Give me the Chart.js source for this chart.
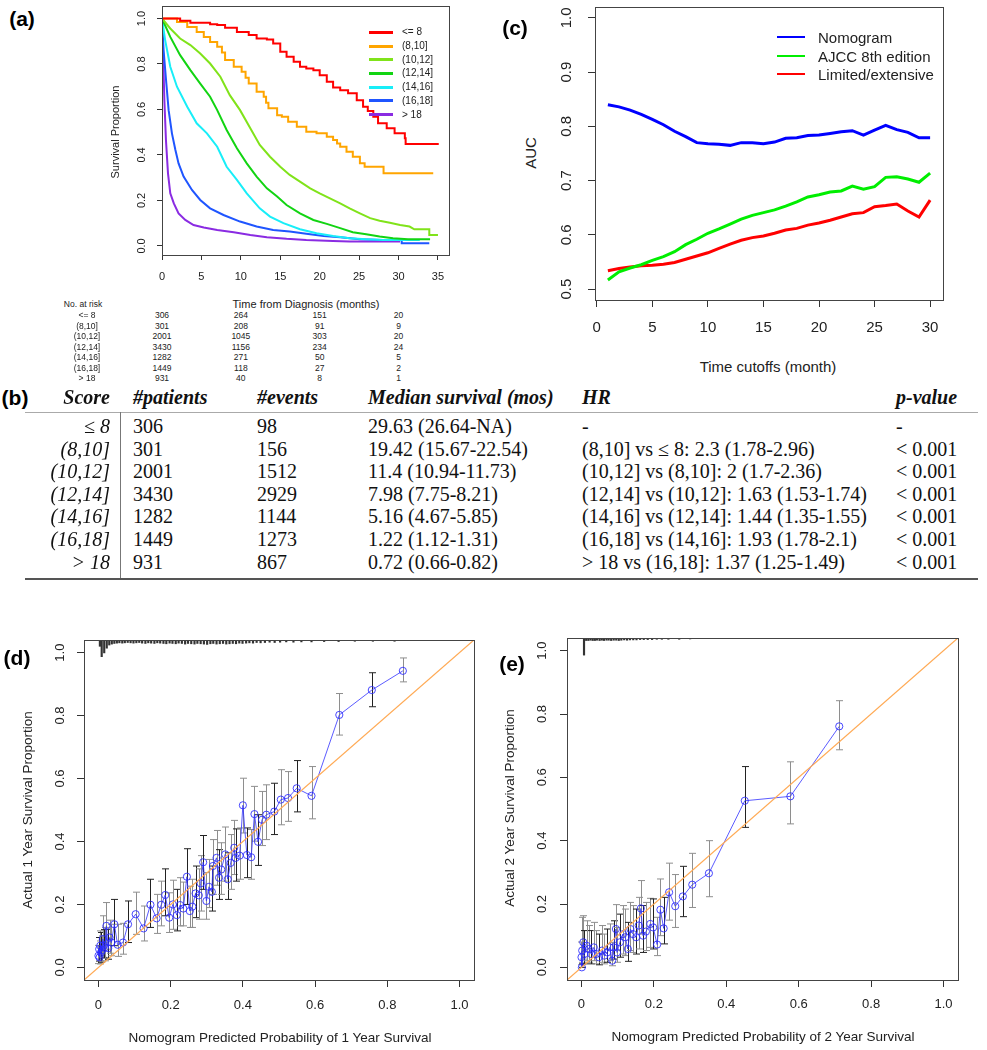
<!DOCTYPE html>
<html>
<head>
<meta charset="utf-8">
<title>Score figure</title>
<script src="https://cdn.jsdelivr.net/npm/chart.js@4.4.1/dist/chart.umd.min.js"></script>
<style>
  body { margin: 0; background: #fff; }
  #page { position: relative; width: 987px; height: 1050px; overflow: hidden; font-family: "Liberation Sans", Arial, sans-serif; color: #222; }
  #page canvas { position: absolute; }
  .lbl { position: absolute; white-space: nowrap; line-height: 1; }
  .tab { font-family: "Liberation Serif", "Times New Roman", serif; font-size: 20px; color: #111; }
  .head { font-weight: bold; font-style: italic; }
  .it { font-style: italic; }
  .tag { font-weight: bold; font-size: 21px; color: #000; }
</style>
</head>
<body>
<div id="page">
  <canvas id="km" width="360" height="290" style="left:100px;top:0px"></canvas>
  <canvas id="auc" width="400" height="345" style="left:560px;top:0px"></canvas>
  <canvas id="cal1" width="490" height="430" style="left:0px;top:620px"></canvas>
  <canvas id="cal2" width="497" height="430" style="left:490px;top:620px"></canvas>
</div>
<script>
// ---------- (a) Kaplan-Meier by score group ----------
const kmGroups = ['<= 8', '(8,10]', '(10,12]', '(12,14]', '(14,16]', '(16,18]', '> 18'];
const kmColors = ['#ff0000', '#ffa500', '#80e31a', '#12d412', '#18eef8', '#1f55ff', '#8a2be2'];
const curveLe8 = [[0,1],[2.3,0.99],[3.6,0.981],[6.1,0.975],[7,0.971],[8,0.959],[9.5,0.941],[11,0.927],[12,0.912],[13.3,0.908],[14.1,0.89],[15,0.854],[15.8,0.832],[16.7,0.81],[17.5,0.788],[18.3,0.78],[19.2,0.773],[20,0.751],[20.9,0.722],[21.7,0.697],[22.6,0.685],[23.6,0.671],[24.7,0.641],[25.5,0.612],[26.1,0.593],[26.8,0.568],[27.4,0.539],[28.5,0.517],[29.5,0.495],[30.8,0.473],[30.9,0.448],[35.1,0.448]];
const curve8to10 = [[0,1],[1.9,0.985],[3.2,0.963],[4.4,0.941],[5.3,0.919],[6.1,0.897],[7,0.876],[7.6,0.85],[8,0.817],[9.1,0.788],[10.1,0.766],[10.6,0.74],[11,0.714],[12,0.678],[12.9,0.656],[13.2,0.63],[13.5,0.605],[14.6,0.575],[15.2,0.568],[16,0.546],[17.1,0.524],[18.3,0.502],[19.6,0.495],[20.9,0.48],[21.7,0.466],[22.2,0.45],[22.6,0.436],[23.4,0.414],[24.2,0.392],[25.1,0.363],[25.7,0.348],[28.1,0.319],[34.4,0.319]];
const curve10to12 = [[0,1],[1.05,0.956],[2.3,0.912],[3.6,0.883],[4.85,0.846],[6.1,0.802],[7.4,0.744],[8.6,0.663],[9.9,0.597],[11.2,0.517],[12.4,0.444],[13.7,0.392],[15,0.348],[16.2,0.312],[17.5,0.283],[18.8,0.253],[20,0.231],[21.3,0.209],[22.6,0.187],[23.8,0.165],[25.1,0.143],[26.4,0.122],[27.6,0.111],[28.9,0.102],[30.2,0.092],[31.4,0.085],[32,0.073],[33.9,0.073],[33.9,0.048],[35,0.048]];
const curve12to14 = [[0,1],[1.05,0.919],[2.3,0.839],[3.6,0.773],[4.85,0.714],[6.1,0.656],[7,0.597],[8.2,0.51],[9.5,0.429],[10.75,0.363],[12,0.305],[13.3,0.253],[14.6,0.217],[15.8,0.18],[17.5,0.143],[19.2,0.114],[20.9,0.097],[22.6,0.078],[24.2,0.06],[25.9,0.051],[27.6,0.041],[29.3,0.034],[31.2,0.029],[34,0.029]];
const curve14to16 = [[0,1],[0.4,0.905],[1.05,0.788],[1.9,0.7],[3.2,0.612],[4.4,0.539],[5.7,0.495],[7,0.436],[8.2,0.348],[9.5,0.29],[10.75,0.231],[12.4,0.165],[13.7,0.129],[15.4,0.1],[17.5,0.073],[19.6,0.056],[21.7,0.044],[23.8,0.034],[25.9,0.029],[28,0.026],[32.7,0.026]];
const curve16to18 = [[0,1],[0.2,0.861],[0.55,0.714],[0.84,0.597],[1.26,0.495],[1.7,0.422],[2.1,0.363],[2.74,0.305],[3.8,0.246],[4.85,0.202],[6.1,0.165],[7.8,0.136],[9.9,0.107],[12,0.085],[14.1,0.07],[16.2,0.063],[18.3,0.053],[20.5,0.044],[22.6,0.038],[25.1,0.029],[28,0.026],[30.4,0.026],[30.4,0.012],[33.9,0.012]];
const curveOver18 = [[0,1],[0.13,0.861],[0.3,0.641],[0.5,0.466],[0.76,0.319],[1.05,0.231],[1.5,0.187],[2.1,0.143],[2.95,0.114],[4,0.092],[5.3,0.081],[7,0.07],[9.1,0.06],[11.2,0.048],[13.3,0.038],[15.8,0.031],[18.3,0.026],[21.7,0.022],[23.8,0.019],[30.2,0.019]];
const kmCurves = [curveLe8, curve8to10, curve10to12, curve12to14, curve14to16, curve16to18, curveOver18];
const kmTicksX = [0, 5, 10, 15, 20, 25, 30, 35];
const propTicks = [0, 0.2, 0.4, 0.6, 0.8, 1.0];
const riskTimes = [0, 10, 20, 30];
const riskCounts = [[306,264,151,20],[301,208,91,9],[2001,1045,303,20],[3430,1156,234,24],[1282,271,50,5],[1449,118,27,2],[931,40,8,1]];

// ---------- (c) time-dependent AUC ----------
const cutoffMonths = [1,2,3,4,5,6,7,8,9,10,11,12,13,14,15,16,17,18,19,20,21,22,23,24,25,26,27,28,29,30];
const aucNomogram = [0.840,0.836,0.830,0.822,0.813,0.803,0.791,0.781,0.770,0.768,0.767,0.765,0.770,0.770,0.768,0.771,0.778,0.779,0.783,0.784,0.787,0.790,0.792,0.784,0.793,0.802,0.794,0.789,0.779,0.779];
const aucAjcc = [0.517,0.532,0.539,0.545,0.553,0.560,0.569,0.582,0.592,0.603,0.611,0.620,0.629,0.636,0.641,0.646,0.653,0.661,0.670,0.674,0.679,0.681,0.690,0.684,0.689,0.706,0.707,0.703,0.697,0.714];
const aucLimited = [0.534,0.538,0.541,0.543,0.544,0.546,0.549,0.555,0.561,0.567,0.575,0.583,0.590,0.595,0.598,0.603,0.609,0.612,0.618,0.622,0.627,0.633,0.639,0.641,0.652,0.654,0.657,0.644,0.633,0.664];
const aucLabels = ['Nomogram', 'AJCC 8th edition', 'Limited/extensive'];
const aucColors = ['#0000ff', '#00ee00', '#ff0000'];
const aucTicksX = [0, 5, 10, 15, 20, 25, 30];
const aucTicksY = [0.5, 0.6, 0.7, 0.8, 0.9, 1.0];

// ---------- (b) table ----------
const tableHeads = ['Score', '#patients', '#events', 'Median survival (mos)', 'HR', 'p-value'];
const scoreLabels = ['\u2264 8', '(8,10]', '(10,12]', '(12,14]', '(14,16]', '(16,18]', '> 18'];
const nPatients = [306, 301, 2001, 3430, 1282, 1449, 931];
const nEvents = [98, 156, 1512, 2929, 1144, 1273, 867];
const medianSurv = ['29.63 (26.64-NA)', '19.42 (15.67-22.54)', '11.4 (10.94-11.73)', '7.98 (7.75-8.21)', '5.16 (4.67-5.85)', '1.22 (1.12-1.31)', '0.72 (0.66-0.82)'];
const hazardRatios = ['-', '(8,10] vs \u2264 8: 2.3 (1.78-2.96)', '(10,12] vs (8,10]: 2 (1.7-2.36)', '(12,14] vs (10,12]: 1.63 (1.53-1.74)', '(14,16] vs (12,14]: 1.44 (1.35-1.55)', '(16,18] vs (14,16]: 1.93 (1.78-2.1)', '> 18 vs (16,18]: 1.37 (1.25-1.49)'];
const pValues = ['-', '< 0.001', '< 0.001', '< 0.001', '< 0.001', '< 0.001', '< 0.001'];

// ---------- (d) 1-year calibration ----------
const cal1Pred = [0.000,0.002,0.003,0.005,0.007,0.010,0.012,0.015,0.018,0.022, 0.027,0.031,0.036,0.044,0.053,0.068,0.082,0.103,0.125,0.144, 0.161,0.174,0.185,0.196,0.206,0.217,0.226,0.235,0.245,0.253, 0.260,0.269,0.278,0.283,0.290,0.299,0.306,0.314,0.317,0.327, 0.334,0.340,0.351,0.358,0.366,0.376,0.380,0.391,0.400,0.411, 0.423,0.432,0.442,0.453,0.465,0.487,0.505,0.525,0.549,0.590, 0.667,0.757,0.843];
const cal1Obs = [0.037,0.058,0.032,0.069,0.047,0.055,0.090,0.070,0.063,0.132, 0.061,0.095,0.079,0.137,0.072,0.079,0.137,0.169,0.124,0.199, 0.156,0.199,0.230,0.158,0.200,0.166,0.198,0.187,0.288,0.179, 0.193,0.235,0.229,0.267,0.334,0.211,0.256,0.240,0.322,0.348, 0.285,0.311,0.359,0.280,0.332,0.380,0.348,0.355,0.515,0.357, 0.350,0.487,0.399,0.469,0.485,0.495,0.533,0.538,0.569,0.545, 0.802,0.881,0.942];
const cal1Lo = [0.012,0.020,0.011,0.021,0.016,0.018,0.032,0.030,0.021,0.058, 0.026,0.045,0.037,0.069,0.035,0.042,0.079,0.105,0.084,0.127, 0.108,0.132,0.164,0.111,0.121,0.116,0.132,0.132,0.200,0.127, 0.127,0.158,0.153,0.179,0.248,0.153,0.190,0.179,0.232,0.261, 0.216,0.232,0.274,0.216,0.248,0.295,0.274,0.280,0.427,0.285, 0.280,0.401,0.324,0.387,0.406,0.422,0.453,0.464,0.494,0.472, 0.738,0.828,0.907];
const cal1Hi = [0.070,0.095,0.084,0.116,0.111,0.100,0.164,0.120,0.127,0.206, 0.121,0.150,0.137,0.216,0.137,0.140,0.211,0.239,0.195,0.280, 0.232,0.274,0.313,0.237,0.277,0.248,0.285,0.271,0.377,0.258, 0.280,0.322,0.313,0.355,0.419,0.301,0.343,0.322,0.406,0.435, 0.374,0.396,0.446,0.364,0.422,0.467,0.440,0.443,0.601,0.443, 0.438,0.575,0.485,0.559,0.580,0.585,0.628,0.622,0.657,0.638, 0.870,0.936,0.983];
const cal1RugX = [0.004,0.009,0.016,0.023,0.030,0.037,0.044,0.051,0.058,0.066,0.073,0.081,0.089,0.097,0.105,0.113,0.121,0.130,0.138,0.146,0.155,0.163,0.171,0.180,0.188,0.197,0.205,0.214,0.222,0.231,0.240,0.248,0.257,0.266,0.274,0.283,0.292,0.301,0.310,0.318,0.327,0.336,0.345,0.354,0.363,0.372,0.381,0.390,0.399,0.409,0.418,0.428,0.438,0.449,0.461,0.474,0.488,0.503,0.520,0.540,0.562,0.590,0.625,0.665,0.71,0.76,0.82];
const cal1RugLen = [0.02,0.053,0.041,0.026,0.016,0.013,0.011,0.010,0.009,0.010,0.009,0.008,0.009,0.010,0.009,0.008,0.010,0.011,0.009,0.010,0.011,0.009,0.010,0.011,0.012,0.010,0.011,0.012,0.010,0.011,0.013,0.011,0.012,0.013,0.011,0.012,0.013,0.014,0.012,0.011,0.013,0.012,0.011,0.013,0.012,0.011,0.012,0.010,0.011,0.010,0.009,0.010,0.008,0.009,0.008,0.007,0.008,0.007,0.006,0.007,0.006,0.006,0.005,0.005,0.004,0.004,0.004];

// ---------- (e) 2-year calibration ----------
const cal2Pred = [0.000,0.001,0.002,0.005,0.008,0.014,0.020,0.027,0.034,0.040, 0.048,0.057,0.063,0.071,0.078,0.085,0.089,0.095,0.098,0.106, 0.115,0.121,0.128,0.135,0.142,0.151,0.158,0.164,0.170,0.178, 0.190,0.198,0.209,0.218,0.227,0.242,0.259,0.280,0.306,0.352, 0.451,0.577,0.712];
const cal2Obs = [0.032,0.000,0.053,0.079,0.042,0.068,0.058,0.042,0.063,0.042, 0.032,0.053,0.037,0.047,0.063,0.021,0.063,0.121,0.047,0.079, 0.105,0.095,0.058,0.121,0.105,0.095,0.132,0.186,0.100,0.113, 0.137,0.126,0.072,0.182,0.123,0.237,0.193,0.224,0.261,0.297, 0.526,0.540,0.761];
const cal2Lo = [0.008,0.000,0.016,0.026,0.011,0.021,0.016,0.011,0.021,0.011, 0.008,0.016,0.011,0.016,0.021,0.005,0.026,0.053,0.016,0.032, 0.042,0.037,0.019,0.053,0.047,0.042,0.058,0.105,0.047,0.053, 0.063,0.058,0.037,0.100,0.074,0.149,0.126,0.160,0.189,0.223, 0.442,0.453,0.687];
const cal2Hi = [0.080,0.011,0.158,0.163,0.116,0.147,0.132,0.116,0.142,0.116, 0.105,0.132,0.105,0.121,0.137,0.079,0.147,0.198,0.126,0.168, 0.195,0.184,0.142,0.205,0.195,0.184,0.221,0.274,0.195,0.205, 0.218,0.216,0.158,0.279,0.221,0.329,0.293,0.319,0.360,0.400, 0.634,0.649,0.842];
const cal2RugX = [0.007,0.013,0.019,0.025,0.031,0.037,0.043,0.050,0.056,0.062,0.069,0.075,0.082,0.089,0.096,0.103,0.110,0.118,0.126,0.134,0.143,0.152,0.162,0.172,0.183,0.195,0.208,0.222,0.240,0.270,0.300];
const cal2RugLen = [0.054,0.008,0.008,0.007,0.008,0.008,0.007,0.008,0.007,0.008,0.007,0.007,0.008,0.007,0.007,0.008,0.007,0.006,0.007,0.006,0.006,0.006,0.005,0.005,0.005,0.005,0.004,0.004,0.004,0.004,0.003];
const probTicks = [0, 0.2, 0.4, 0.6, 0.8, 1.0];
const calRange = [-0.04, 1.04];

// ---------- helpers ----------
Chart.defaults.font.family = '"Liberation Sans", Arial, sans-serif';
Chart.defaults.color = '#222';

const page = document.getElementById('page');
function put(text, x, y, cls, anchor, css) {
  const d = document.createElement('div');
  d.className = 'lbl ' + (cls || '');
  d.textContent = text;
  d.style.left = x + 'px';
  d.style.top = y + 'px';
  d.style.transform = {
    l: 'translate(0,-50%)', r: 'translate(-100%,-50%)',
    c: 'translate(-50%,-50%)', v: 'translate(-50%,-50%) rotate(-90deg)'
  }[anchor || 'c'];
  if (css) Object.assign(d.style, css);
  page.appendChild(d);
  return d;
}
function rect(x, y, w, h, color) {
  const d = document.createElement('div');
  Object.assign(d.style, { position: 'absolute', left: x + 'px', top: y + 'px', width: w + 'px', height: h + 'px', background: color });
  page.appendChild(d);
}

// R-like axis: ticks outside, fixed box size; y labels are drawn turned by the plugin below
function rAxis(min, max, ticks, fontSize, tickLen, pad, size, vertical) {
  return {
    type: 'linear', min, max, bounds: 'data', offset: false,
    afterBuildTicks: s => { s.ticks = ticks.map(v => ({ value: v })); },
    afterFit: s => {
      if (vertical) s.width = size; else s.height = size;
      s.paddingLeft = s.paddingRight = s.paddingTop = s.paddingBottom = 0;
    },
    grid: { drawOnChartArea: false, drawTicks: true, tickLength: tickLen, color: '#333', lineWidth: 1, offset: false },
    border: { display: false },
    ticks: {
      display: !vertical, autoSkip: false, font: { size: fontSize }, color: '#222', padding: pad,
      maxRotation: 0, minRotation: 0
    }
  };
}

const rStylePlugin = {
  id: 'rStyle',
  afterDatasetsDraw(chart, args, opts) {
    const { left, top, right, bottom } = chart.chartArea;
    const ctx = chart.ctx;
    ctx.save();
    ctx.strokeStyle = '#444';
    ctx.lineWidth = 1;
    ctx.strokeRect(Math.round(left) + 0.5, Math.round(top) + 0.5, Math.round(right - left), Math.round(bottom - top));
    // y tick labels, reading upwards as in base R graphics
    const sy = chart.scales.y;
    ctx.fillStyle = '#222';
    ctx.font = opts.fontSize + 'px "Liberation Sans", Arial, sans-serif';
    ctx.textAlign = 'center';
    ctx.textBaseline = 'middle';
    sy.ticks.forEach(t => {
      ctx.save();
      ctx.translate(left - opts.gap, sy.getPixelForValue(t.value));
      ctx.rotate(-Math.PI / 2);
      ctx.fillText(t.value.toFixed(1), 0, 0);
      ctx.restore();
    });
    ctx.restore();
  }
};

const errorBarPlugin = {
  id: 'errorBars',
  beforeDatasetsDraw(chart, args, opts) {
    if (!opts.xs) return;
    const ctx = chart.ctx, sx = chart.scales.x, sy = chart.scales.y;
    ctx.save();
    ctx.lineWidth = 1;
    for (let i = 0; i < opts.xs.length; i++) {
      const px = Math.round(sx.getPixelForValue(opts.xs[i])) + 0.5;
      const y1 = sy.getPixelForValue(opts.lo[i]);
      const y2 = sy.getPixelForValue(opts.hi[i]);
      ctx.strokeStyle = i % 3 === 1 ? '#222' : '#8e8e8e';
      ctx.beginPath();
      ctx.moveTo(px, y1); ctx.lineTo(px, y2);
      ctx.moveTo(px - 3.5, y1); ctx.lineTo(px + 3.5, y1);
      ctx.moveTo(px - 3.5, y2); ctx.lineTo(px + 3.5, y2);
      ctx.stroke();
    }
    ctx.restore();
  }
};

// ---------- (a) ----------
const kmChart = new Chart(document.getElementById('km'), {
  type: 'line',
  data: {
    datasets: kmCurves.map((c, i) => ({
      label: kmGroups[i],
      data: c.map(([t, s]) => ({ x: t, y: s })),
      borderColor: kmColors[i],
      borderWidth: 2,
      pointRadius: 0,
      stepped: i < 2,
      fill: false
    }))
  },
  options: {
    responsive: false, animation: false,
    layout: { padding: { left: 22, right: 11, top: 6, bottom: 5 } },
    plugins: { legend: { display: false }, tooltip: { enabled: false }, rStyle: { fontSize: 11, gap: 20 } },
    scales: {
      x: rAxis(0, 36.4, kmTicksX, 11, 5, 10, 30, false),
      y: rAxis(-0.04, 1.055, propTicks, 11, 5, 0, 40, true)
    }
  },
  plugins: [rStylePlugin]
});

kmGroups.forEach((g, i) => {
  const y = 32.3 + 13.7 * i;
  rect(369, y - 1.5, 24, 3, kmColors[i]);
  put(g, 402, y, '', 'l', { fontSize: '10px' });
});
put('Survival Proportion', 115, 132, '', 'v', { fontSize: '11px' });
put('Time from Diagnosis (months)', 306, 304, '', 'c', { fontSize: '11px' });
put('No. at risk', 83, 304, '', 'c', { fontSize: '8.5px' });
riskCounts.forEach((row, i) => {
  const y = 315 + 10.5 * i;
  put(kmGroups[i], 87, y, '', 'c', { fontSize: '8.5px' });
  row.forEach((n, j) => {
    const x = 100 + kmChart.scales.x.getPixelForValue(riskTimes[j]);
    put(String(n), x, y, '', 'c', { fontSize: '8.5px' });
  });
});

// ---------- (c) ----------
const aucSeries = [aucNomogram, aucAjcc, aucLimited];
new Chart(document.getElementById('auc'), {
  type: 'line',
  data: {
    datasets: aucSeries.map((s, i) => ({
      label: aucLabels[i],
      data: s.map((v, k) => ({ x: cutoffMonths[k], y: v })),
      borderColor: aucColors[i],
      borderWidth: 3,
      pointRadius: 0,
      fill: false
    }))
  },
  options: {
    responsive: false, animation: false,
    layout: { padding: { left: 5, right: 17, top: 7, bottom: 5 } },
    plugins: { legend: { display: false }, tooltip: { enabled: false }, rStyle: { fontSize: 15, gap: 28 } },
    scales: {
      x: rAxis(-0.16, 31.16, aucTicksX, 15, 7, 12, 40, false),
      y: rAxis(0.48, 1.02, aucTicksY, 15, 7, 0, 30, true)
    }
  },
  plugins: [rStylePlugin]
});
aucLabels.forEach((l, i) => {
  const y = 37 + 18.5 * i;
  rect(777, y - 1, 28, 2, aucColors[i]);
  put(l, 818, y, '', 'l', { fontSize: '15px' });
});
put('AUC', 530, 153, '', 'v', { fontSize: '15px' });
put('Time cutoffs (month)', 768, 366, '', 'c', { fontSize: '15px' });

// ---------- (d), (e) ----------
function makeCal(id, pred, obs, lo, hi, rugX, rugLen, pad, xPad, gap) {
  return new Chart(document.getElementById(id), {
    type: 'line',
    data: {
      datasets: [
        {
          type: 'bar',
          data: rugX.map((x, i) => ({ x, y: [calRange[1] - rugLen[i], calRange[1]] })),
          backgroundColor: '#333',
          barThickness: 1.5,
          grouped: false
        },
        {
          data: calRange.map(v => ({ x: v, y: v })),
          borderColor: '#ffaa55',
          borderWidth: 1.3,
          pointRadius: 0
        },
        {
          data: pred.map((x, i) => ({ x, y: obs[i] })),
          borderColor: 'rgba(50,50,255,0.8)',
          borderWidth: 1,
          pointRadius: 3.6,
          pointBorderWidth: 1,
          pointBorderColor: 'rgba(40,40,255,0.85)',
          pointBackgroundColor: 'rgba(0,0,0,0)'
        }
      ]
    },
    options: {
      responsive: false, animation: false,
      layout: { padding: pad },
      plugins: {
        legend: { display: false }, tooltip: { enabled: false },
        errorBars: { xs: pred, lo, hi },
        rStyle: { fontSize: 13, gap }
      },
      scales: {
        x: rAxis(calRange[0], calRange[1], probTicks, 13, 7, xPad, 40, false),
        y: rAxis(calRange[0], calRange[1], probTicks, 13, 7, 0, 40, true)
      }
    },
    plugins: [rStylePlugin, errorBarPlugin]
  });
}
makeCal('cal1', cal1Pred, cal1Obs, cal1Lo, cal1Hi, cal1RugX, cal1RugLen,
  { left: 44, right: 16, top: 20, bottom: 30 }, 11, 24);
makeCal('cal2', cal2Pred, cal2Obs, cal2Lo, cal2Hi, cal2RugX, cal2RugLen,
  { left: 37, right: 29, top: 18, bottom: 30 }, 10, 25);

put('Actual 1 Year Survival Proportion', 28, 810, '', 'v', { fontSize: '13.5px' });
put('Nomogram Predicted Probability of 1 Year Survival', 280, 1038, '', 'c', { fontSize: '13.5px' });
put('Actual 2 Year Survival Proportion', 510, 808, '', 'v', { fontSize: '13.5px' });
put('Nomogram Predicted Probability of 2 Year Survival', 763, 1037, '', 'c', { fontSize: '13.5px' });

// ---------- (b) table ----------
const colLeft = [null, 133, 257, 368, 582, 896];
const headY = 397;
tableHeads.forEach((h, j) => {
  if (j === 0) put(h, 110, headY, 'tab head', 'r');
  else put(h, colLeft[j], headY, 'tab head', 'l');
});
scoreLabels.forEach((s, i) => {
  const y = 426 + 22.6 * i;
  put(s, 110, y, 'tab it', 'r');
  put(String(nPatients[i]), colLeft[1], y, 'tab', 'l');
  put(String(nEvents[i]), colLeft[2], y, 'tab', 'l');
  put(medianSurv[i], colLeft[3], y, 'tab', 'l');
  put(hazardRatios[i], colLeft[4], y, 'tab', 'l');
  put(pValues[i], colLeft[5], y, 'tab', 'l');
});
rect(25, 412, 953, 1, '#aaa');
rect(25, 578, 953, 2, '#555');
rect(120, 412, 1, 166, '#777');

// ---------- panel tags ----------
put('(a)', 22, 18, 'tag', 'c');
put('(c)', 515, 27, 'tag', 'c');
put('(b)', 15, 397, 'tag', 'c');
put('(d)', 17, 657, 'tag', 'c');
put('(e)', 512, 663, 'tag', 'c');
</script>
</body>
</html>
